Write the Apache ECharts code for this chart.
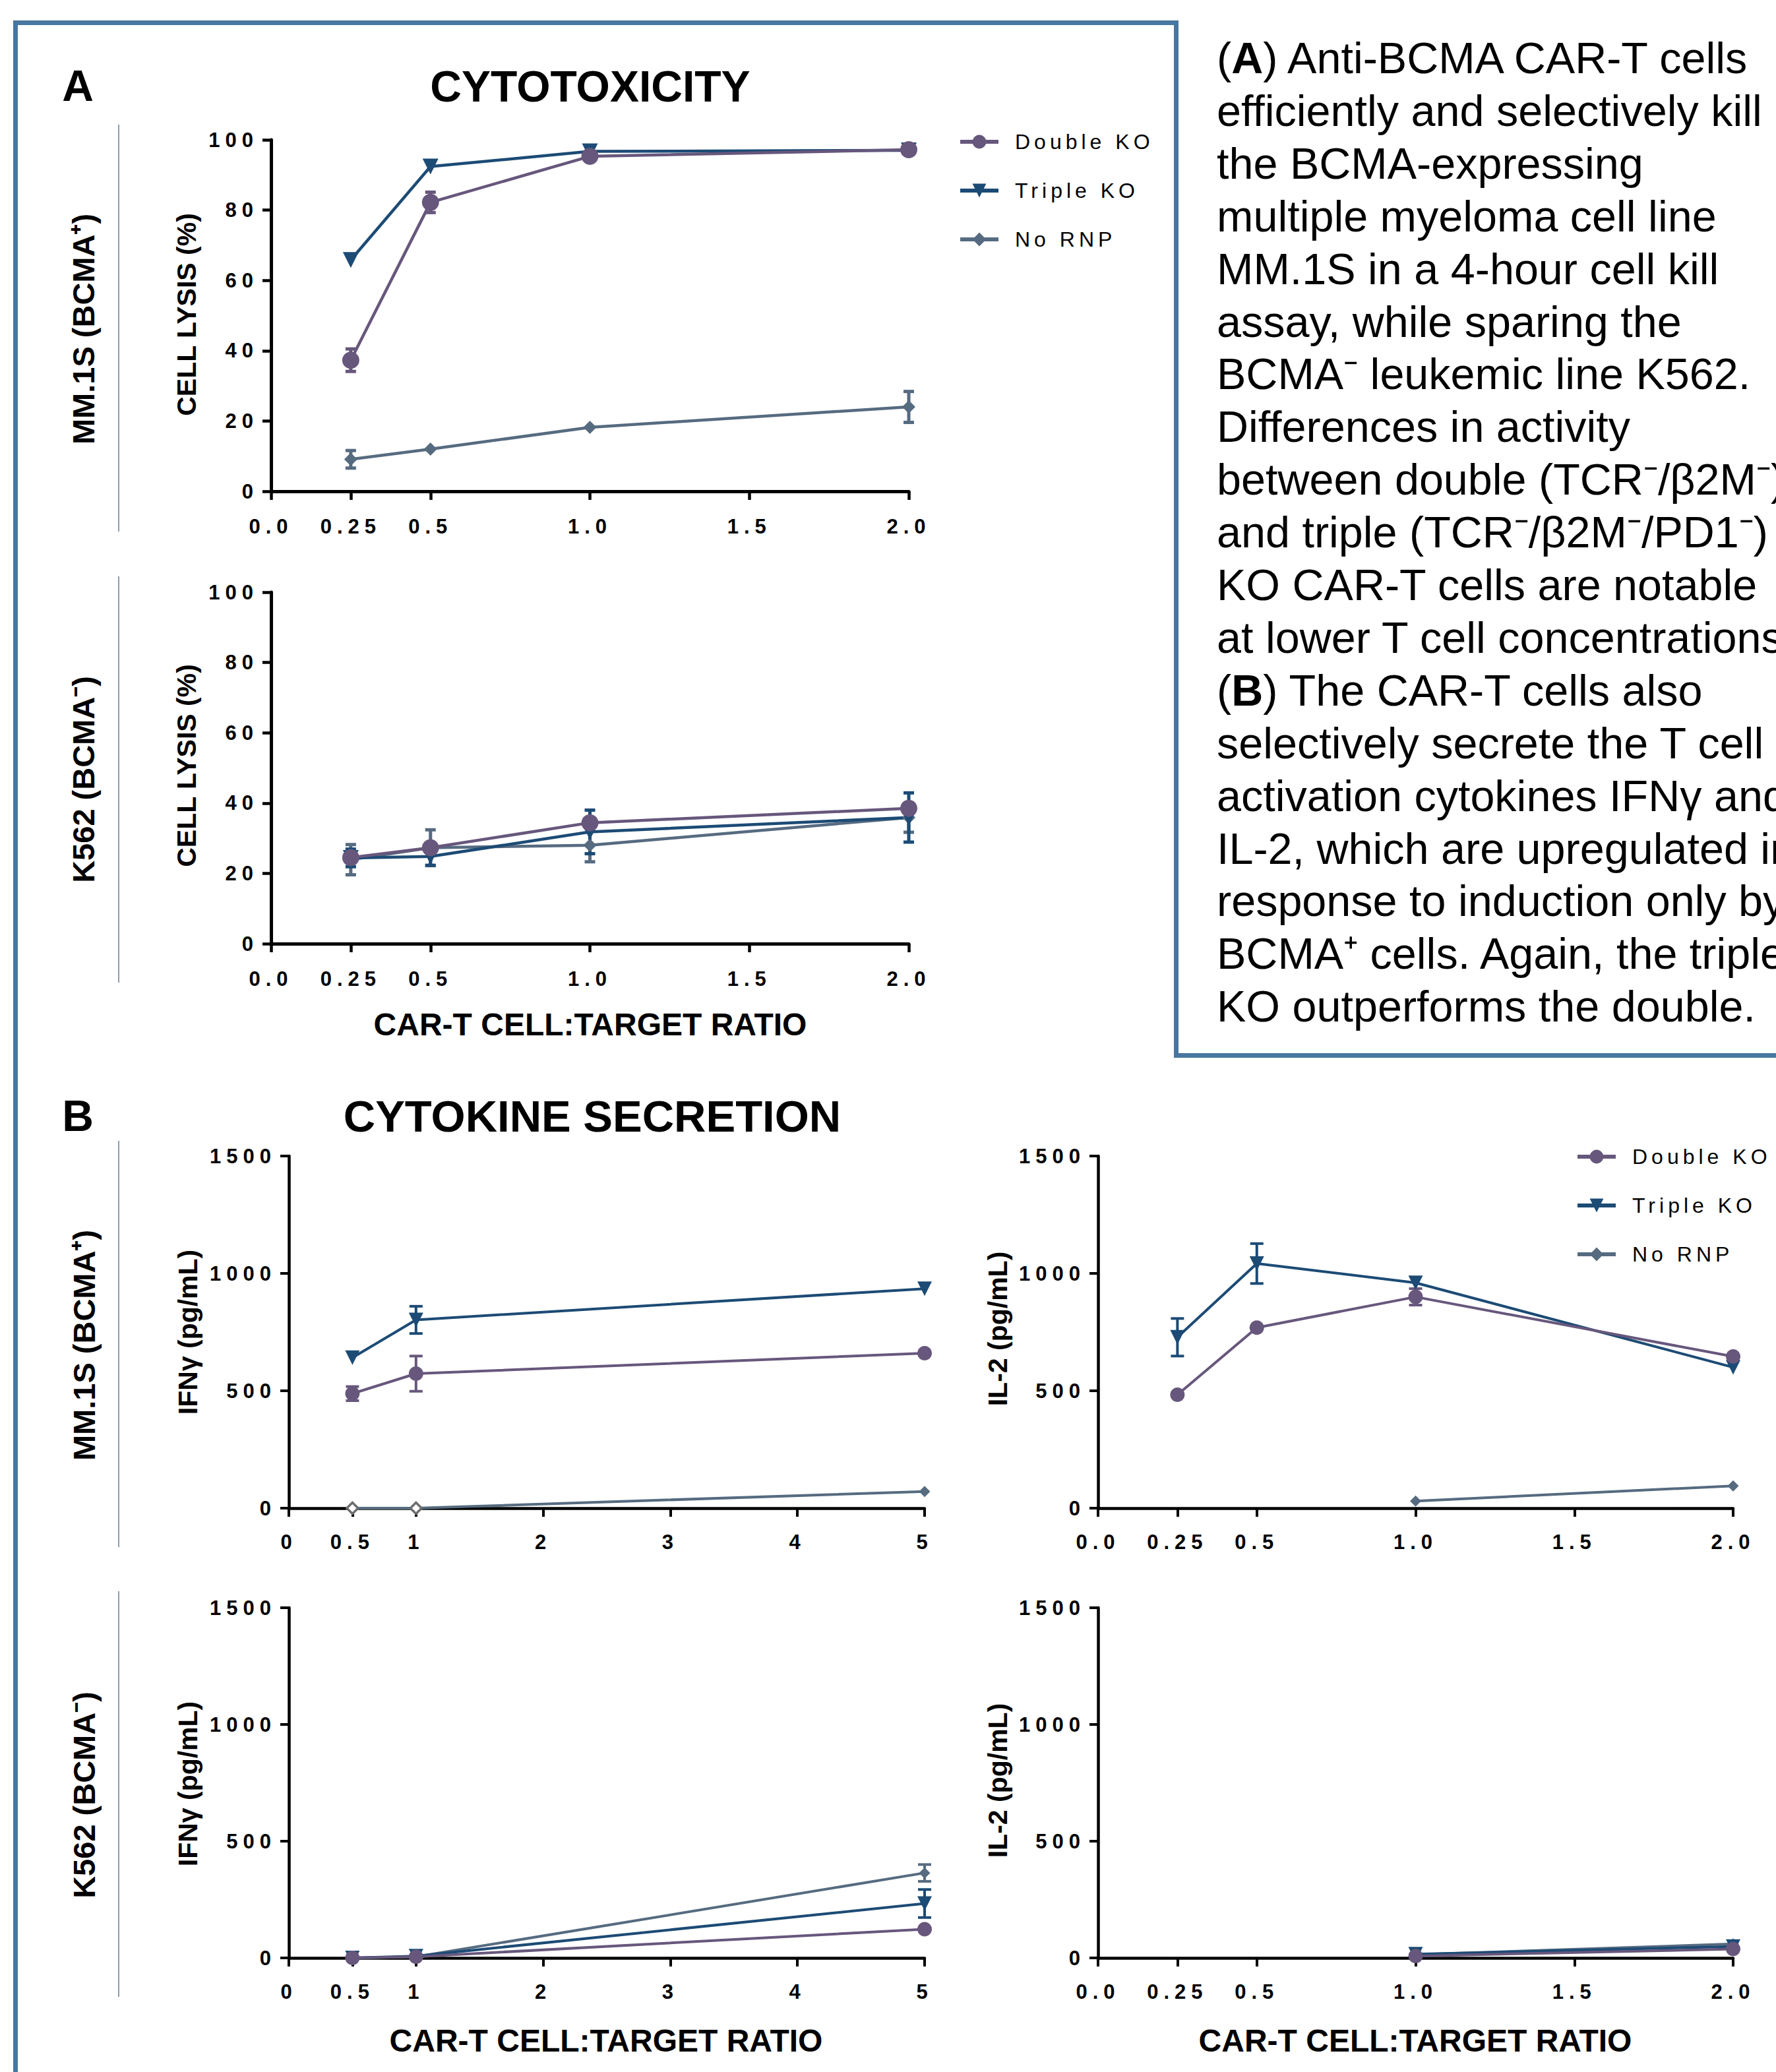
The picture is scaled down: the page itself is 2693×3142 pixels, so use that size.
<!DOCTYPE html>
<html><head><meta charset="utf-8">
<script src="https://cdn.jsdelivr.net/npm/echarts@6/dist/echarts.min.js"></script>
<style>
html,body{margin:0;padding:0;background:#fff;}
#c{width:2693px;height:3142px;}
#c text[style*="Arial"]{letter-spacing:8px;}
#c text[style*="Helvetica"]{letter-spacing:6px;}
</style></head><body><div id="c"></div>
<script>
// ---------- DATA ----------
const seriesNames = ['Double KO', 'Triple KO', 'No RNP'];

const ratioA = [0.25, 0.5, 1.0, 2.0];
const ratioIFN = [0.5, 1, 5];
const ratioIL2 = [0.25, 0.5, 1.0, 2.0];

const tickValuesA = [0, 0.25, 0.5, 1.0, 1.5, 2.0];
const tickLabelsA = ['0.0', '0.25', '0.5', '1.0', '1.5', '2.0'];
const tickValuesIFN = [0, 0.5, 1, 2, 3, 4, 5];
const tickLabelsIFN = ['0', '0.5', '1', '2', '3', '4', '5'];

// A: cytotoxicity, cell lysis (%)
const mmLysisDouble = [37.3, 82.2, 95.3, 97.2];
const mmLysisDoubleErr = [3.2, 2.9, 0, 0];
const mmLysisTriple = [65.8, 92.4, 96.7, 97.0];
const mmLysisTripleErr = [0, 0, 0, 0];
const mmLysisNoRnp = [9.1, 12.0, 18.2, 24.0];
const mmLysisNoRnpErr = [2.5, 0, 0, 4.4];

const k562LysisDouble = [24.5, 27.3, 34.4, 38.5];
const k562LysisDoubleErr = [0, 0, 0, 0];
const k562LysisTriple = [24.4, 24.8, 31.8, 35.9];
const k562LysisTripleErr = [2.5, 2.5, 6.2, 7.0];
const k562LysisNoRnp = [23.9, 27.3, 28.0, 35.9];
const k562LysisNoRnpErr = [4.3, 5.1, 4.7, 4.2];

// B: cytokine secretion (pg/mL)
const mmIfnDouble = [488, 573, 660];
const mmIfnDoubleErr = [30, 75, 0];
const mmIfnTriple = [641, 802, 935];
const mmIfnTripleErr = [0, 58, 0];
const mmIfnNoRnp = [0, 0, 71];
const mmIfnNoRnpErr = [0, 0, 0];

const k562IfnDouble = [0, 5, 123];
const k562IfnDoubleErr = [0, 0, 0];
const k562IfnTriple = [0, 8, 233];
const k562IfnTripleErr = [0, 0, 60];
const k562IfnNoRnp = [0, 5, 364];
const k562IfnNoRnpErr = [0, 0, 36];

const mmIl2Double = [483, 769, 900, 646];
const mmIl2DoubleErr = [0, 0, 35, 0];
const mmIl2Triple = [728, 1042, 960, 600];
const mmIl2TripleErr = [80, 85, 0, 0];
const mmIl2NoRnp = [null, null, 30, 95];
const mmIl2NoRnpErr = [0, 0, 0, 0];

const k562Il2Double = [null, null, 8, 38];
const k562Il2DoubleErr = [0, 0, 0, 0];
const k562Il2Triple = [null, null, 16, 49];
const k562Il2TripleErr = [0, 0, 0, 0];
const k562Il2NoRnp = [null, null, 14, 60];
const k562Il2NoRnpErr = [0, 0, 0, 0];

const paragraphLines = [
  ['(', {b: 'A'}, ') Anti-BCMA CAR-T cells'],
  ['efficiently and selectively kill'],
  ['the BCMA-expressing'],
  ['multiple myeloma cell line'],
  ['MM.1S in a 4-hour cell kill'],
  ['assay, while sparing the'],
  ['BCMA\u207B leukemic line K562.'],
  ['Differences in activity'],
  ['between double (TCR\u207B/\u03B22M\u207B)'],
  ['and triple (TCR\u207B/\u03B22M\u207B/PD1\u207B)'],
  ['KO CAR-T cells are notable'],
  ['at lower T cell concentrations.'],
  ['(', {b: 'B'}, ') The CAR-T cells also'],
  ['selectively secrete the T cell'],
  ['activation cytokines IFN\u03B3 and'],
  ['IL-2, which are upregulated in'],
  ['response to induction only by'],
  ['BCMA\u207A cells. Again, the triple'],
  ['KO outperforms the double.']
];

// ---------- STYLE ----------
const COLORS = {'Double KO': '#67577c', 'Triple KO': '#1c4b75', 'No RNP': '#566b80'};
const SYM = {'Double KO': ['circle', 0], 'Triple KO': ['triangle', 180], 'No RNP': ['diamond', 0]};
const TITLE_FONT = "'Liberation Sans'";
const TICK_FONT = "Arial, 'Liberation Sans'";
const LEG_FONT = "Helvetica, 'Liberation Sans'";

const styleA = {axisW: 5, tickW: 4.5, lineW: 4.5, sizes: {'Double KO': 26, 'Triple KO': 24, 'No RNP': 20},
  capHalf: 8, errW: 5, fontSize: 31, xMargin: 38, yMargin: 19};
const styleB = {axisW: 4.5, tickW: 4, lineW: 4, sizes: {'Double KO': 22, 'Triple KO': 22, 'No RNP': 17},
  capHalf: 10, errW: 4, fontSize: 31, xMargin: 36, yMargin: 19};

const grids = [], xAxes = [], yAxes = [], series = [];

function errRender(color, capHalf, lw) {
  return function (params, api) {
    const x = api.value(0), lo = api.value(1), hi = api.value(2);
    const a = api.coord([x, lo]), b = api.coord([x, hi]);
    const st = {stroke: color, lineWidth: lw};
    return {type: 'group', children: [
      {type: 'line', shape: {x1: a[0], y1: a[1], x2: b[0], y2: b[1]}, style: st},
      {type: 'line', shape: {x1: a[0] - capHalf, y1: a[1], x2: a[0] + capHalf, y2: a[1]}, style: st},
      {type: 'line', shape: {x1: b[0] - capHalf, y1: b[1], x2: b[0] + capHalf, y2: b[1]}, style: st}
    ]};
  };
}

function addChart(pos, xs, xTicks, xLabels, xMax, yMax, yStep, sets, st, hollowZero) {
  const i = grids.length;
  grids.push(Object.assign({containLabel: false}, pos));
  const tickFont = {fontFamily: TICK_FONT, fontWeight: 'bold', fontSize: st.fontSize, color: '#000'};
  xAxes.push({type: 'value', gridIndex: i, min: 0, max: xMax,
    axisLine: {show: true, onZero: false, lineStyle: {color: '#000', width: st.axisW}},
    axisTick: {show: true, customValues: xTicks, length: 13, lineStyle: {color: '#000', width: st.tickW}},
    axisLabel: Object.assign({show: true, customValues: xTicks, margin: st.xMargin,
      formatter: v => { const k = xTicks.indexOf(v); return k >= 0 ? xLabels[k] : ''; }}, tickFont),
    splitLine: {show: false}});
  yAxes.push({type: 'value', gridIndex: i, min: 0, max: yMax, interval: yStep,
    axisLine: {show: true, lineStyle: {color: '#000', width: st.axisW}},
    axisTick: {show: true, length: 13, lineStyle: {color: '#000', width: st.tickW}},
    axisLabel: Object.assign({show: true, margin: st.yMargin, formatter: v => String(v)}, tickFont),
    splitLine: {show: false}});
  // draw order: No RNP, Triple KO, Double KO (Double on top)
  ['No RNP', 'Triple KO', 'Double KO'].forEach(name => {
    const s = sets[name];
    const color = COLORS[name];
    const err = [];
    const pts = [];
    xs.forEach((x, k) => {
      const v = s.y[k];
      if (v === null || v === undefined) return;
      if (hollowZero && name === 'No RNP' && v === 0) {
        pts.push({value: [x, v], itemStyle: {color: '#fff', borderColor: '#6d6d6d', borderWidth: 3.5}});
      } else {
        pts.push([x, v]);
      }
      if (s.e[k] > 0) err.push([x, v - s.e[k], v + s.e[k]]);
    });
    if (err.length) {
      series.push({type: 'custom', name: name + ' SEM', xAxisIndex: i, yAxisIndex: i, silent: true,
        data: err, encode: {x: 0, y: [1, 2]}, renderItem: errRender(color, st.capHalf, st.errW), z: 2});
    }
    series.push({type: 'line', name: name, xAxisIndex: i, yAxisIndex: i, data: pts,
      symbol: SYM[name][0], symbolRotate: SYM[name][1], symbolSize: st.sizes[name], showSymbol: true,
      lineStyle: {color: color, width: st.lineW}, itemStyle: {color: color}, z: 3});
  });
}

// A1: MM.1S cytotoxicity
addChart({left: 411, top: 212, width: 967, height: 533}, ratioA, tickValuesA, tickLabelsA, 2, 100, 20, {
  'Double KO': {y: mmLysisDouble, e: mmLysisDoubleErr},
  'Triple KO': {y: mmLysisTriple, e: mmLysisTripleErr},
  'No RNP': {y: mmLysisNoRnp, e: mmLysisNoRnpErr}}, styleA);
// A2: K562 cytotoxicity
addChart({left: 411, top: 898, width: 967, height: 533}, ratioA, tickValuesA, tickLabelsA, 2, 100, 20, {
  'Double KO': {y: k562LysisDouble, e: k562LysisDoubleErr},
  'Triple KO': {y: k562LysisTriple, e: k562LysisTripleErr},
  'No RNP': {y: k562LysisNoRnp, e: k562LysisNoRnpErr}}, styleA);
// B1: MM.1S IFNg
addChart({left: 438, top: 1753, width: 964, height: 534}, ratioIFN, tickValuesIFN, tickLabelsIFN, 5, 1500, 500, {
  'Double KO': {y: mmIfnDouble, e: mmIfnDoubleErr},
  'Triple KO': {y: mmIfnTriple, e: mmIfnTripleErr},
  'No RNP': {y: mmIfnNoRnp, e: mmIfnNoRnpErr}}, styleB, true);
// B2: K562 IFNg
addChart({left: 438, top: 2438, width: 964, height: 531}, ratioIFN, tickValuesIFN, tickLabelsIFN, 5, 1500, 500, {
  'Double KO': {y: k562IfnDouble, e: k562IfnDoubleErr},
  'Triple KO': {y: k562IfnTriple, e: k562IfnTripleErr},
  'No RNP': {y: k562IfnNoRnp, e: k562IfnNoRnpErr}}, styleB);
// B3: MM.1S IL-2
addChart({left: 1665, top: 1753, width: 963, height: 534}, ratioIL2, tickValuesA, tickLabelsA, 2, 1500, 500, {
  'Double KO': {y: mmIl2Double, e: mmIl2DoubleErr},
  'Triple KO': {y: mmIl2Triple, e: mmIl2TripleErr},
  'No RNP': {y: mmIl2NoRnp, e: mmIl2NoRnpErr}}, styleB);
// B4: K562 IL-2
addChart({left: 1665, top: 2438, width: 963, height: 531}, ratioIL2, tickValuesA, tickLabelsA, 2, 1500, 500, {
  'Double KO': {y: k562Il2Double, e: k562Il2DoubleErr},
  'Triple KO': {y: k562Il2Triple, e: k562Il2TripleErr},
  'No RNP': {y: k562Il2NoRnp, e: k562Il2NoRnpErr}}, styleB);

function legendAt(left, top) {
  return {orient: 'vertical', left: left, top: top, data: seriesNames,
    itemWidth: 58, itemHeight: 26, itemGap: 42,
    lineStyle: {width: 6},
    textStyle: {fontFamily: LEG_FONT, fontSize: 32, color: '#000', lineHeight: 32, padding: [0, 0, 0, 20]},
    selectedMode: false};
}

// ---------- GRAPHIC TEXT ----------
function txt(x, y, text, size, opts) {
  opts = opts || {};
  return {type: 'text', x: x, y: y, rotation: opts.rot || 0, silent: true,
    style: {text: text, fontFamily: opts.family || TITLE_FONT, fontWeight: opts.weight || 'bold', fontSize: size,
      fill: '#000', align: opts.align || 'center', textAlign: opts.align || 'center',
      verticalAlign: 'middle', textVerticalAlign: 'middle'}};
}
const R90 = Math.PI / 2;
const graphics = [];
// frame
graphics.push({type: 'polyline', silent: true,
  shape: {points: [[23.5, 3142], [23.5, 34.5], [1783.5, 34.5], [1783.5, 1600.5], [2693, 1600.5]]},
  style: {stroke: '#4876a0', lineWidth: 7, fill: null}});
// separators
[[189, 806], [874, 1490], [1730, 2346], [2413, 3028]].forEach(([a, b]) => {
  graphics.push({type: 'line', silent: true, shape: {x1: 180, y1: a, x2: 180, y2: b},
    style: {stroke: '#8d9cad', lineWidth: 2}});
});
graphics.push(txt(118, 130, 'A', 66));
graphics.push(txt(895, 131, 'CYTOTOXICITY', 66));
graphics.push(txt(118, 1692, 'B', 66));
graphics.push(txt(898, 1692, 'CYTOKINE SECRETION', 67));
graphics.push(txt(126, 499, 'MM.1S (BCMA\u207A)', 47, {rot: R90}));
graphics.push(txt(126, 1182, 'K562 (BCMA\u207B)', 47, {rot: R90}));
graphics.push(txt(127, 2040, 'MM.1S (BCMA\u207A)', 47, {rot: R90}));
graphics.push(txt(127, 2722, 'K562 (BCMA\u207B)', 47, {rot: R90}));
graphics.push(txt(283, 477, 'CELL LYSIS (%)', 41, {rot: R90}));
graphics.push(txt(283, 1161, 'CELL LYSIS (%)', 41, {rot: R90}));
graphics.push(txt(285, 2020, 'IFN\u03B3 (pg/mL)', 41, {rot: R90}));
graphics.push(txt(285, 2705, 'IFN\u03B3 (pg/mL)', 41, {rot: R90}));
graphics.push(txt(1513, 2015, 'IL-2 (pg/mL)', 41, {rot: R90}));
graphics.push(txt(1513, 2700, 'IL-2 (pg/mL)', 41, {rot: R90}));
graphics.push(txt(895, 1553, 'CAR-T CELL:TARGET RATIO', 48));
graphics.push(txt(919, 3094, 'CAR-T CELL:TARGET RATIO', 48));
graphics.push(txt(2146, 3094, 'CAR-T CELL:TARGET RATIO', 48));
// paragraph
paragraphLines.forEach((parts, i) => {
  let s = '';
  parts.forEach(p => { s += (typeof p === 'string') ? '{n|' + p + '}' : '{b|' + p.b + '}'; });
  graphics.push({type: 'text', x: 1845, y: 88 + 79.9 * i, silent: true,
    style: {text: s, fill: '#000', align: 'left', textAlign: 'left', verticalAlign: 'middle', textVerticalAlign: 'middle',
      rich: {n: {fontFamily: TITLE_FONT, fontSize: 66.5, fontWeight: 'normal', fill: '#000'},
             b: {fontFamily: TITLE_FONT, fontSize: 66.5, fontWeight: 'bold', fill: '#000'}}}});
});

const chart = echarts.init(document.getElementById('c'), null, {renderer: 'svg', width: 2693, height: 3142});
chart.setOption({
  animation: false,
  backgroundColor: '#fff',
  grid: grids, xAxis: xAxes, yAxis: yAxes, series: series,
  legend: [legendAt(1448, 194), legendAt(2384, 1733)],
  graphic: {elements: graphics}
});
</script></body></html>
